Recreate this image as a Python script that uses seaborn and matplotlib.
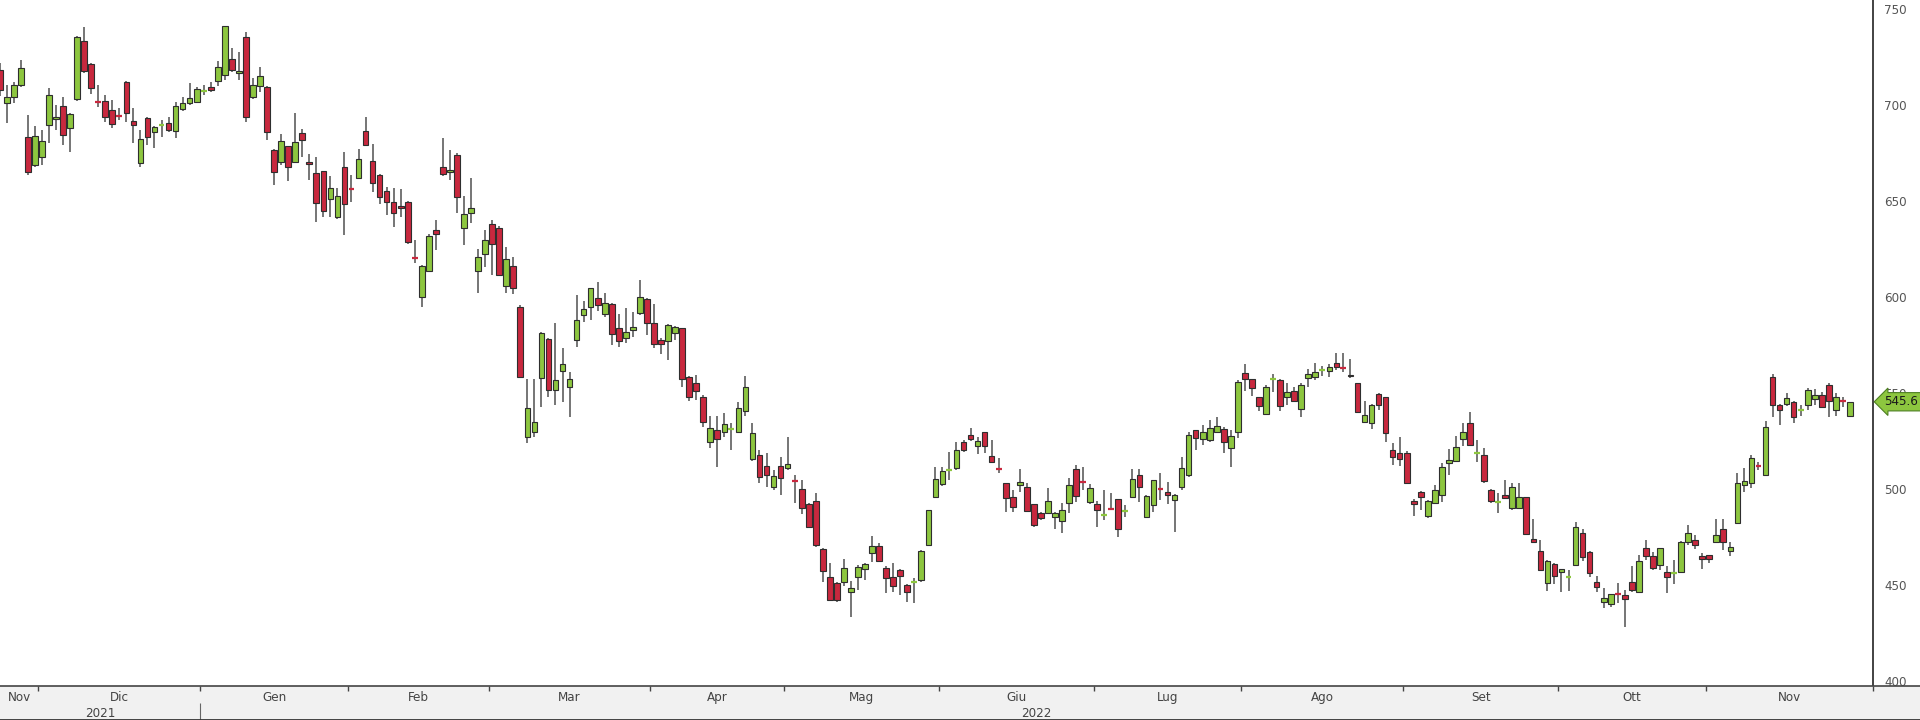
import matplotlib
matplotlib.use("Agg")
import matplotlib.pyplot as plt
import numpy as np
import pandas as pd
import seaborn as sns

# daily OHLC, 23 Nov 2021 -> 29 Nov 2022
open_ = [
    718.4, 701.3, 704.5, 710.5, 683.6, 668.9, 673.2, 689.7, 693.0, 699.6,
    688.0, 703.3, 733.6, 721.3, 702.0, 702.4, 697.5, 695.0, 712.0, 691.8,
    670.1, 693.5, 686.2, 689.5, 690.6, 686.8, 697.9, 701.0, 701.9, 707.0,
    709.7, 712.8, 715.8, 723.9, 716.7, 735.4, 704.5, 710.0, 709.4, 676.7,
    670.7, 678.8, 670.7, 685.4, 670.7, 664.9, 665.5, 651.0, 642.0, 667.7,
    656.8, 662.3, 686.8, 671.0, 663.7, 655.4, 649.5, 647.5, 649.5, 620.8,
    600.0, 613.9, 635.1, 667.7, 665.5, 674.1, 636.0, 643.8, 613.9, 622.5,
    638.0, 636.0, 605.9, 616.3, 595.1, 527.0, 530.0, 557.8, 578.1, 551.7,
    561.8, 553.1, 577.7, 590.7, 595.1, 599.4, 591.3, 596.5, 583.8, 578.6,
    583.0, 592.0, 598.9, 586.4, 577.7, 577.4, 581.5, 583.8, 558.3, 555.2,
    547.9, 524.8, 530.9, 529.6, 530.9, 530.0, 540.9, 515.8, 517.8, 512.1,
    501.0, 512.1, 510.9, 504.8, 500.1, 492.3, 494.1, 468.9, 454.5, 451.0,
    451.5, 446.7, 454.5, 458.3, 467.0, 470.6, 459.3, 454.5, 457.9, 450.1,
    451.5, 452.7, 471.0, 495.8, 502.7, 509.7, 510.9, 524.8, 528.3, 522.5,
    529.6, 517.3, 511.2, 503.1, 496.1, 502.2, 501.0, 492.3, 487.5, 487.5,
    485.7, 483.6, 492.7, 510.4, 504.0, 493.5, 492.3, 486.5, 490.5, 494.8,
    488.5, 495.8, 507.4, 485.7, 491.8, 500.7, 498.7, 494.4, 501.0, 507.4,
    530.9, 526.1, 525.7, 530.1, 531.3, 521.4, 530.1, 560.4, 557.3, 547.9,
    539.3, 557.0, 557.0, 547.9, 551.4, 541.7, 557.8, 558.4, 561.8, 561.8,
    566.0, 563.8, 559.5, 555.2, 535.3, 534.4, 549.7, 547.9, 520.5, 519.1,
    518.8, 494.1, 498.8, 486.1, 493.0, 497.0, 513.5, 514.9, 526.0, 534.7,
    518.6, 517.8, 499.6, 492.8, 497.0, 490.1, 490.1, 495.8, 474.4, 468.0,
    451.3, 461.1, 457.1, 454.0, 460.5, 477.4, 467.5, 451.9, 441.4, 440.2,
    445.8, 444.9, 451.9, 446.7, 469.2, 465.2, 460.5, 457.1, 456.2, 457.1,
    472.7, 473.6, 465.2, 465.7, 472.7, 479.1, 468.0, 482.3, 502.3, 503.5,
    512.5, 507.5, 558.4, 544.0, 544.3, 545.7, 541.0, 544.0, 546.9, 549.2,
    554.4, 541.3, 546.4, 538.2,
]
high = [
    722.0, 710.5, 712.3, 723.6, 694.9, 689.2, 687.1, 708.8, 700.1, 704.5,
    696.0, 736.0, 740.6, 722.0, 710.5, 705.3, 702.7, 698.4, 712.6, 698.4,
    687.1, 694.0, 689.0, 692.3, 693.7, 701.9, 704.1, 711.4, 709.7, 710.5,
    712.3, 723.2, 741.5, 729.6, 727.9, 738.3, 714.0, 720.0, 710.0, 677.0,
    685.1, 679.0, 695.8, 687.5, 674.7, 672.9, 666.0, 662.9, 656.8, 675.9,
    663.7, 677.3, 693.8, 679.7, 664.0, 657.6, 656.8, 656.3, 650.0, 629.9,
    617.0, 633.0, 640.3, 682.8, 676.7, 675.0, 652.8, 662.0, 625.0, 635.0,
    640.0, 637.0, 626.0, 620.8, 596.0, 557.2, 557.2, 582.0, 579.0, 586.4,
    573.4, 561.2, 601.2, 598.2, 605.0, 608.1, 602.0, 597.0, 591.3, 594.2,
    592.5, 609.0, 599.5, 596.5, 578.6, 586.0, 585.0, 584.0, 559.0, 559.5,
    549.1, 538.0, 538.0, 539.5, 534.3, 545.6, 559.0, 534.3, 520.4, 518.7,
    510.0, 517.0, 527.4, 507.4, 504.8, 493.0, 497.9, 469.5, 461.4, 451.5,
    463.7, 452.2, 460.6, 461.5, 475.6, 471.8, 460.0, 461.8, 458.5, 450.5,
    453.6, 468.5, 489.5, 511.4, 511.4, 519.6, 524.8, 525.7, 531.7, 527.4,
    530.0, 525.7, 516.1, 503.5, 499.6, 510.4, 503.1, 492.5, 488.0, 500.5,
    488.3, 493.0, 505.7, 512.6, 511.4, 502.7, 494.1, 499.6, 497.9, 495.0,
    491.8, 510.4, 510.4, 497.0, 505.0, 508.3, 504.0, 497.5, 516.6, 530.0,
    531.0, 533.5, 536.1, 537.5, 532.3, 530.9, 557.0, 565.3, 557.5, 548.0,
    554.4, 560.1, 557.3, 555.2, 553.5, 555.2, 562.5, 566.0, 564.3, 565.3,
    571.2, 571.2, 567.7, 555.5, 546.2, 544.2, 550.0, 548.2, 524.0, 527.5,
    520.2, 494.8, 499.0, 494.5, 502.2, 513.8, 520.8, 527.7, 534.3, 540.4,
    525.7, 521.3, 500.0, 497.9, 504.8, 503.1, 503.4, 496.0, 484.3, 473.6,
    463.0, 461.5, 458.5, 458.0, 483.1, 479.6, 467.7, 454.8, 448.4, 445.6,
    451.3, 447.5, 460.0, 465.7, 473.6, 467.5, 469.5, 460.0, 463.1, 473.0,
    481.4, 476.2, 466.6, 466.0, 484.8, 484.8, 472.7, 508.7, 511.0, 517.9,
    514.4, 535.8, 560.1, 544.5, 550.0, 546.0, 544.0, 552.6, 552.1, 550.9,
    555.2, 550.0, 547.9, 545.7,
]
low = [
    705.0, 690.6, 701.0, 709.7, 663.7, 668.0, 668.9, 680.2, 687.1, 679.3,
    675.8, 702.0, 717.0, 705.9, 698.9, 691.4, 688.0, 692.3, 691.4, 680.2,
    667.7, 679.3, 677.9, 683.3, 686.0, 682.8, 697.2, 700.0, 701.3, 705.3,
    707.0, 710.0, 713.0, 717.5, 713.0, 691.4, 703.0, 707.0, 682.0, 658.5,
    668.9, 660.3, 670.0, 673.3, 661.1, 639.4, 642.0, 642.0, 641.0, 632.5,
    649.8, 661.5, 679.0, 655.0, 648.6, 642.9, 636.8, 642.0, 628.0, 617.7,
    595.1, 613.0, 624.7, 662.9, 661.0, 643.8, 627.3, 638.5, 602.1, 616.0,
    611.6, 611.0, 602.0, 601.7, 558.0, 524.3, 527.0, 543.0, 548.2, 543.9,
    545.6, 537.8, 574.3, 587.3, 588.1, 593.0, 589.9, 575.1, 574.3, 576.0,
    579.5, 590.7, 580.3, 573.4, 570.4, 567.3, 577.7, 553.4, 546.1, 546.5,
    532.6, 521.3, 511.4, 527.4, 520.4, 529.1, 538.0, 515.0, 503.1, 501.3,
    499.6, 497.0, 510.0, 492.7, 487.1, 480.0, 470.0, 451.9, 442.0, 441.4,
    449.6, 433.3, 447.5, 452.7, 462.3, 462.0, 445.8, 446.7, 445.0, 441.4,
    440.9, 452.0, 470.5, 495.3, 501.7, 504.8, 510.0, 519.6, 525.3, 518.4,
    518.7, 514.0, 508.3, 488.3, 488.3, 498.7, 488.5, 480.5, 484.0, 487.0,
    479.6, 477.4, 487.5, 493.5, 499.6, 492.3, 480.5, 484.0, 489.2, 475.0,
    485.7, 495.5, 493.5, 485.5, 488.3, 494.4, 492.3, 477.9, 499.6, 506.6,
    520.5, 523.1, 524.8, 529.2, 519.1, 511.5, 526.6, 551.4, 548.6, 541.0,
    539.0, 550.9, 541.0, 543.9, 546.0, 537.5, 553.5, 557.0, 559.0, 558.7,
    562.2, 561.3, 557.8, 540.0, 534.7, 531.3, 541.3, 524.8, 512.7, 512.2,
    503.0, 486.1, 489.3, 484.9, 492.3, 493.5, 507.4, 514.5, 522.5, 522.5,
    514.4, 503.1, 492.7, 487.5, 495.0, 489.2, 489.8, 476.8, 472.5, 457.8,
    447.2, 450.6, 446.7, 447.2, 460.0, 462.8, 454.5, 446.7, 438.0, 438.8,
    440.6, 428.5, 446.7, 445.8, 463.1, 458.0, 458.0, 446.1, 450.6, 456.2,
    471.0, 468.7, 458.3, 461.4, 472.0, 468.4, 465.2, 482.0, 498.8, 500.5,
    510.0, 507.0, 537.9, 533.5, 543.4, 534.7, 538.2, 541.3, 544.0, 542.2,
    537.5, 538.2, 543.1, 538.0,
]
close = [
    708.0, 704.5, 710.5, 719.2, 665.4, 684.0, 681.6, 705.3, 694.0, 684.5,
    695.3, 735.4, 717.8, 709.2, 701.5, 694.1, 690.2, 694.5, 696.1, 689.7,
    682.3, 683.3, 688.5, 689.7, 687.1, 699.6, 701.0, 704.0, 708.3, 707.5,
    708.0, 719.7, 741.3, 718.4, 718.0, 694.1, 710.6, 715.0, 686.3, 665.5,
    681.6, 668.1, 681.1, 682.0, 669.5, 649.3, 645.0, 656.8, 652.8, 648.4,
    656.5, 671.9, 679.3, 659.7, 652.4, 649.8, 643.8, 646.7, 628.7, 620.3,
    616.3, 632.0, 633.0, 664.2, 666.5, 652.1, 643.4, 646.7, 620.8, 630.0,
    628.0, 611.6, 619.7, 604.6, 558.3, 542.1, 535.2, 581.2, 551.7, 556.9,
    565.1, 557.2, 588.1, 593.7, 604.6, 596.0, 597.2, 580.9, 577.4, 582.1,
    584.3, 600.3, 586.7, 575.6, 575.6, 585.5, 584.7, 557.2, 548.2, 551.3,
    535.2, 532.1, 526.0, 533.8, 531.3, 542.1, 553.1, 529.1, 506.2, 507.4,
    506.9, 505.7, 513.2, 504.6, 490.1, 480.5, 471.0, 457.6, 442.3, 442.3,
    459.3, 448.7, 459.7, 461.1, 470.6, 462.8, 453.6, 449.6, 454.8, 446.7,
    452.0, 468.0, 489.2, 505.2, 509.7, 510.0, 520.4, 520.4, 526.0, 525.3,
    522.7, 514.4, 510.6, 495.3, 490.9, 503.9, 488.8, 481.4, 484.9, 494.1,
    487.8, 489.5, 502.2, 496.5, 503.9, 500.5, 489.5, 486.8, 490.0, 479.6,
    488.9, 505.2, 501.0, 496.5, 504.8, 500.3, 497.0, 497.0, 510.9, 528.3,
    526.6, 530.1, 531.8, 533.0, 524.8, 527.8, 556.1, 557.3, 552.6, 543.4,
    553.1, 557.2, 543.4, 550.9, 546.2, 554.4, 559.9, 561.3, 562.0, 563.9,
    563.6, 563.4, 558.9, 540.5, 538.7, 544.0, 544.0, 529.2, 517.0, 515.6,
    503.2, 492.4, 496.2, 494.1, 499.6, 511.4, 515.2, 522.2, 530.0, 523.0,
    518.9, 504.5, 494.1, 493.2, 495.3, 501.3, 495.8, 477.0, 472.7, 458.0,
    462.8, 454.8, 458.3, 454.2, 480.5, 464.9, 456.2, 449.3, 443.2, 445.4,
    445.6, 442.7, 447.5, 462.8, 465.2, 458.8, 469.2, 454.1, 456.5, 472.7,
    477.4, 471.0, 463.5, 463.5, 476.2, 472.7, 470.1, 503.5, 504.5, 516.2,
    512.1, 532.3, 544.0, 541.3, 547.4, 537.5, 541.2, 551.8, 549.2, 543.1,
    546.2, 547.9, 546.0, 545.6,
]
month_names = ["Gen", "Feb", "Mar", "Apr", "Mag", "Giu",
               "Lug", "Ago", "Set", "Ott", "Nov", "Dic"]
holidays = ["2022-04-15", "2022-04-18"]
last_price = 545.6

GREEN = "#8dc63f"
RED = "#c8283e"

sns.set_theme(style="white")
plt.rcParams["font.family"] = ["DejaVu Sans"]
plt.rcParams["font.stretch"] = "condensed"

df = pd.DataFrame({"open": open_, "high": high, "low": low, "close": close})
dates = pd.bdate_range("2021-11-23", "2022-11-29")
dates = dates[~dates.isin(pd.to_datetime(holidays))]
df["date"] = dates[:len(df)]
df["x"] = np.arange(len(df))
df["up"] = df["close"] >= df["open"]
df["color"] = np.where(df["up"], GREEN, RED)
df["doji"] = (df["close"] - df["open"]).abs() < 0.6

W, H = 1920, 720
AX_PX, BAND_PX = 1873, 34
STEP = 7.035                      # pixels per trading day
x_left = 0.04
x_right = x_left + AX_PX / STEP

fig = plt.figure(figsize=(W / 100, H / 100), dpi=100)
ax = fig.add_axes([0, BAND_PX / H, AX_PX / W, 1 - BAND_PX / H])

# wicks
ax.vlines(df["x"], df["low"], df["high"], color="#5e5e5e", lw=1.2, zorder=1)
# bodies
body = df[~df["doji"]]
ax.bar(body["x"], (body["close"] - body["open"]).abs(),
       bottom=body[["open", "close"]].min(axis=1), width=0.8,
       color=body["color"], edgecolor="#2e2e2e", linewidth=0.8, zorder=2)
dj = df[df["doji"]]
ax.hlines(dj["close"], dj["x"] - 0.42, dj["x"] + 0.42,
          color=dj["color"], lw=1.6, zorder=2)

ax.set_xlim(x_left, x_right)
ax.set_ylim(397.6, 754.8)
ax.yaxis.tick_right()
ax.set_yticks(np.arange(400, 751, 50))
ax.set_yticks(np.arange(425, 751, 50), minor=True)
ax.tick_params(axis="y", which="major", direction="out", length=6, width=1,
               color="#222222", labelcolor="#555555", labelsize=9.5, pad=2,
               right=True, left=False)
ax.tick_params(axis="y", which="minor", direction="out", length=3, width=0.8,
               color="#555555", right=True, left=False)
ax.set_xticks([])
sns.despine(ax=ax, left=True, top=True, bottom=True, right=False)
ax.spines["right"].set_color("#222222")
ax.spines["right"].set_linewidth(1.2)
ax.set_facecolor("white")

ax.annotate(f"{last_price:.1f}", xy=(1.0, last_price),
            xycoords=ax.get_yaxis_transform(), xytext=(8, 0),
            textcoords="offset points", ha="left", va="center",
            fontsize=9.5, color="#1a1a1a", annotation_clip=False, zorder=10,
            bbox=dict(boxstyle="larrow,pad=0.2", fc=GREEN, ec="#4d7f22", lw=0.8))

# month / year band
axb = fig.add_axes([0, 0, 1, BAND_PX / H])
axb.set_xlim(x_left, x_left + W / STEP)
axb.set_ylim(0, 1)
axb.set_facecolor("#f1f1f1")
axb.set_xticks([])
axb.set_yticks([])
for side in ["left", "right"]:
    axb.spines[side].set_visible(False)
axb.spines["top"].set_color("#444444")
axb.spines["top"].set_linewidth(1.2)
axb.spines["bottom"].set_color("#333333")
axb.spines["bottom"].set_linewidth(2)

months = df["date"].dt.month.values
years = df["date"].dt.year.values
starts = [0] + [i for i in range(1, len(df)) if months[i] != months[i - 1]]
bounds = [x_left] + [s - 0.5 for s in starts[1:]] + [x_right]
for k, s in enumerate(starts):
    axb.text((bounds[k] + bounds[k + 1]) / 2, 0.66, month_names[months[s] - 1],
             ha="center", va="center", fontsize=9.5, color="#444444")
axb.vlines(bounds[1:-1], 0.86, 1.0, color="#444444", lw=1)
axb.vlines([x_right], 0.86, 1.0, color="#444444", lw=1)

year_start = [i for i in range(1, len(df)) if years[i] != years[i - 1]][0] - 0.5
axb.vlines([year_start], 0.0, 0.5, color="#666666", lw=0.8)
axb.text((x_left + year_start) / 2, 0.2, str(years[0]), ha="center",
         va="center", fontsize=9.5, color="#444444")
axb.text((year_start + x_right) / 2, 0.2, str(years[-1]), ha="center",
         va="center", fontsize=9.5, color="#444444")

fig.savefig("out.png", dpi=100)
